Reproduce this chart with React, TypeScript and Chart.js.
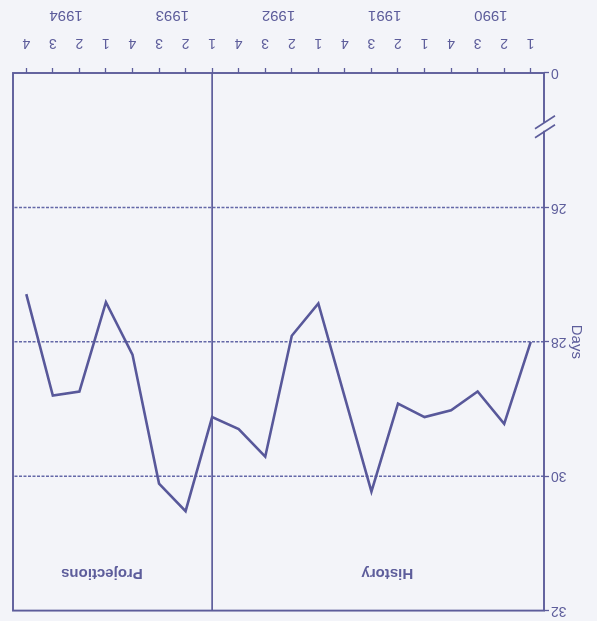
import React, { useEffect, useRef } from "react";
import { Chart, registerables } from "chart.js";

Chart.register(...registerables);

const years = ["1990", "1991", "1992", "1993", "1994"];
const quarters = ["1", "2", "3", "4"];
const categories = years.flatMap((y) => quarters.map((q) => `${y} Q${q}`));
const days = [
  28.0, 29.22, 28.74, 29.02,
  29.12, 28.92, 30.23, 28.83,
  27.43, 27.91, 29.71, 29.3,
  29.12, 30.52, 30.11, 28.19,
  27.41, 28.74, 28.8, 27.29,
];
const yTickValues = [24, 26, 28, 30, 32];
const yTickLabels = ["0", "26", "28", "30", "32"];
const gridValues = [26, 28, 30];
const breakValue = 24.8;
const projectionStart = "1993 Q1";
const historyLabel = "History";
const projectionLabel = "Projections";
const axisTitle = "Days";

const INK = "#5d5d9b";
const LINE = "#58589a";
const BG = "#f3f4f9";
const FONT = "'Liberation Sans', Arial, sans-serif";

export default function App() {
  const ref = useRef<HTMLCanvasElement | null>(null);

  useEffect(() => {
    const canvas = ref.current;
    if (!canvas) return;

    const decor = {
      id: "decor",
      beforeDraw(chart: any) {
        const { ctx } = chart;
        ctx.save();
        ctx.fillStyle = BG;
        ctx.fillRect(0, 0, chart.width, chart.height);
        ctx.restore();
      },
      beforeDatasetsDraw(chart: any) {
        const { ctx, chartArea: a, scales } = chart;
        const y = scales.y;
        const x = scales.x;
        ctx.save();
        ctx.strokeStyle = "#6468a8";
        ctx.lineWidth = 1.5;
        ctx.setLineDash([3, 1.5]);
        gridValues.forEach((v) => {
          const py = y.getPixelForValue(v);
          ctx.beginPath();
          ctx.moveTo(a.left, py);
          ctx.lineTo(a.right, py);
          ctx.stroke();
        });
        ctx.setLineDash([]);
        ctx.strokeStyle = INK;
        ctx.lineWidth = 1.7;
        const px = x.getPixelForValue(categories.indexOf(projectionStart));
        ctx.beginPath();
        ctx.moveTo(px, a.top);
        ctx.lineTo(px, a.bottom);
        ctx.stroke();
        ctx.restore();
      },
      afterDraw(chart: any) {
        const { ctx, chartArea: a, scales } = chart;
        const x = scales.x;
        const y = scales.y;
        ctx.save();
        ctx.strokeStyle = INK;
        ctx.lineWidth = 1.9;
        ctx.strokeRect(a.left, a.top, a.right - a.left, a.bottom - a.top);
        const by = y.getPixelForValue(breakValue);
        ctx.fillStyle = BG;
        ctx.fillRect(a.left - 2, by - 4, 4, 8);
        ctx.lineWidth = 1.6;
        [-4.5, 4.5].forEach((d) => {
          ctx.beginPath();
          ctx.moveTo(a.left - 11, by + d + 6.5);
          ctx.lineTo(a.left + 9, by + d - 6.5);
          ctx.stroke();
        });
        ctx.fillStyle = INK;
        ctx.textAlign = "center";
        ctx.textBaseline = "middle";
        ctx.font = `bold 15px ${FONT}`;
        ctx.fillText(historyLabel, x.getPixelForValue(5.4), a.top + 37);
        ctx.fillText(projectionLabel, x.getPixelForValue(16.15), a.top + 37);
        ctx.font = `15px ${FONT}`;
        years.forEach((yr, i) => {
          const p1 = x.getPixelForValue(i * 4 + 1);
          const p2 = x.getPixelForValue(i * 4 + 2);
          ctx.fillText(yr, (p1 + p2) / 2, 606);
        });
        ctx.font = `15px ${FONT}`;
        ctx.translate(21, (a.top + a.bottom) / 2);
        ctx.rotate(-Math.PI / 2);
        ctx.fillText(axisTitle, 0, 0);
        ctx.restore();
      },
    };

    const chart = new Chart(canvas, {
      type: "line",
      data: {
        labels: categories,
        datasets: [
          {
            data: days,
            borderColor: LINE,
            borderWidth: 2.6,
            pointRadius: 0,
            tension: 0,
            fill: false,
          },
        ],
      },
      options: {
        responsive: false,
        animation: false,
        devicePixelRatio: 1,
        layout: { padding: { top: 6, right: 13, left: 0, bottom: 0 } },
        plugins: {
          legend: { display: false },
          tooltip: { enabled: false },
          title: { display: false },
        },
        scales: {
          x: {
            type: "category",
            offset: true,
            afterFit(scale: any) {
              scale.height = 73;
            },
            border: { display: false },
            grid: {
              drawOnChartArea: false,
              drawTicks: true,
              tickLength: 5,
              tickColor: INK,
              tickWidth: 1.3,
            },
            ticks: {
              autoSkip: false,
              maxRotation: 0,
              padding: 17,
              color: INK,
              font: { family: FONT, size: 14 },
              callback: (_v: any, i: number) => quarters[i % 4],
            },
          },
          y: {
            type: "linear",
            min: 24,
            max: 32,
            afterFit(scale: any) {
              scale.width = 53;
            },
            afterBuildTicks(scale: any) {
              scale.ticks = yTickValues.map((v) => ({ value: v }));
            },
            border: { display: false },
            grid: {
              drawOnChartArea: false,
              drawTicks: true,
              tickLength: 5,
              tickColor: INK,
              tickWidth: 1.3,
            },
            ticks: {
              padding: 2,
              color: INK,
              font: { family: FONT, size: 14 },
              callback: (v: any) => {
                const i = yTickValues.indexOf(Number(v));
                return i >= 0 ? yTickLabels[i] : "";
              },
            },
          },
        },
      },
      plugins: [decor],
    });

    return () => chart.destroy();
  }, []);

  return (
    <div
      style={{
        position: "absolute",
        left: 0,
        top: 0,
        width: 597,
        height: 621,
        background: BG,
        transform: "rotate(180deg)",
      }}
    >
      <canvas ref={ref} width={597} height={621} style={{ display: "block" }} />
    </div>
  );
}
